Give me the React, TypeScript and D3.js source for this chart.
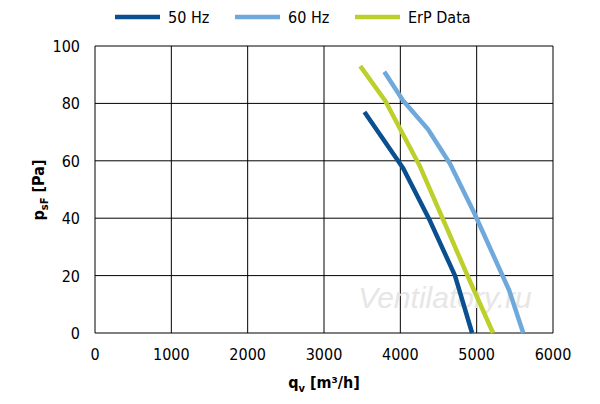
import * as d3 from 'd3';

const q50 = [3530, 4035, 4390, 4716, 4940];
const p50 = [77, 57.5, 39, 20, 0];
const q60 = [3790, 4035, 4362, 4651, 4965, 5424, 5610];
const p60 = [91, 81, 71, 59, 42, 15, 0];
const qErp = [3475, 3800, 4258, 4585, 4913, 5215];
const pErp = [93, 81, 58, 38, 18, 0];
const xTicks = [0, 1000, 2000, 3000, 4000, 5000, 6000];
const yTicks = [0, 20, 40, 60, 80, 100];

const series = [
  { name: '50 Hz', color: '#0a4f8f', q: q50, p: p50 },
  { name: '60 Hz', color: '#6fa9dc', q: q60, p: p60 },
  { name: 'ErP Data', color: '#bccf2a', q: qErp, p: pErp },
];

const font = '"Liberation Sans Narrow", "DejaVu Sans Condensed", Arial, sans-serif';

export default function App() {
  const x = d3.scaleLinear().domain([0, 6000]).range([95, 553]);
  const y = d3.scaleLinear().domain([0, 100]).range([333, 46]);
  const line = d3.line<[number, number]>().x(d => x(d[0])).y(d => y(d[1]));
  const legendX = [115, 235, 355];
  return (
    <svg width={600} height={404} style={{ position: 'absolute', left: 0, top: 0, fontFamily: font }}>
      <rect width={600} height={404} fill="#fff" />
      {xTicks.map(t => (
        <g key={'x' + t}>
          <line x1={x(t)} x2={x(t)} y1={y(0)} y2={y(100)} stroke="#000" strokeWidth={1} />
          <text x={x(t)} y={360} textAnchor="middle" fontSize={16}>{t}</text>
        </g>
      ))}
      {yTicks.map(t => (
        <g key={'y' + t}>
          <line x1={x(0)} x2={x(6000)} y1={y(t)} y2={y(t)} stroke="#000" strokeWidth={1} />
          <text x={80} y={y(t) + 6} textAnchor="end" fontSize={16}>{t}</text>
        </g>
      ))}
      <text x={445} y={308} textAnchor="middle" fontSize={30} fontStyle="italic" fill="#e6e6e6" fontFamily="Arial, sans-serif">Ventilatory.ru</text>
      {series.map(s => (
        <path key={s.name} d={line(s.q.map((v, i) => [v, s.p[i]] as [number, number])) || ''}
          fill="none" stroke={s.color} strokeWidth={4.5} strokeLinejoin="round" />
      ))}
      {series.map((s, i) => (
        <g key={'l' + s.name}>
          <line x1={legendX[i]} x2={legendX[i] + 45} y1={17} y2={17} stroke={s.color} strokeWidth={4.5} />
          <text x={legendX[i] + 53} y={23} fontSize={16}>{s.name}</text>
        </g>
      ))}
      <text x={324} y={388} textAnchor="middle" fontSize={16} fontWeight="bold">
        q<tspan fontSize={11} dy={4}>v</tspan><tspan dy={-4}> [m³/h]</tspan>
      </text>
      <text transform="translate(44,190) rotate(-90)" textAnchor="middle" fontSize={16} fontWeight="bold">
        p<tspan fontSize={11} dy={4}>sF</tspan><tspan dy={-4}> [Pa]</tspan>
      </text>
    </svg>
  );
}
